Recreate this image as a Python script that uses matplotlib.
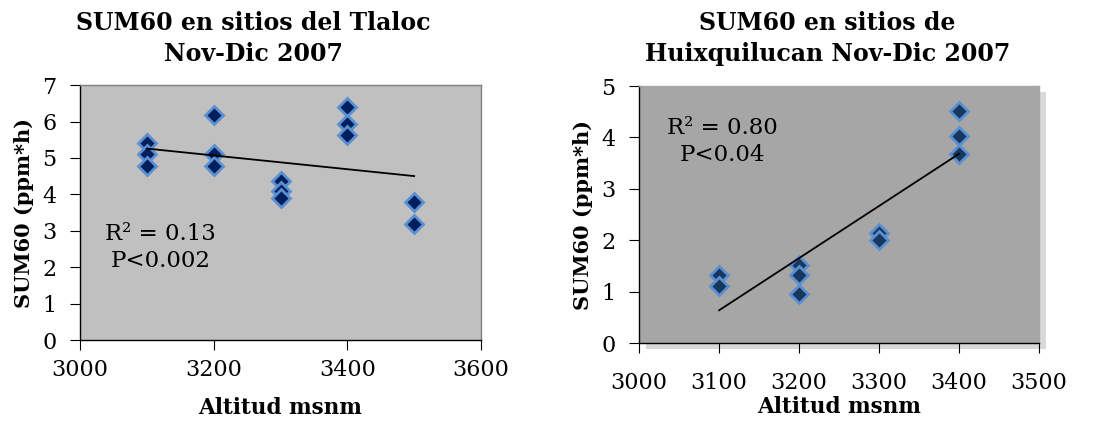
import numpy as np
import matplotlib.pyplot as plt
from matplotlib.patches import Rectangle

# Tlaloc sites
tl_alt = [3100, 3100, 3100, 3200, 3200, 3200, 3300, 3300, 3300,
          3400, 3400, 3400, 3500, 3500]
tl_sum60 = [5.4, 5.1, 4.77, 6.19, 5.11, 4.79, 4.38, 4.08, 3.9,
            6.4, 5.94, 5.64, 3.8, 3.19]

# Huixquilucan sites
hx_alt = [3100, 3100, 3200, 3200, 3200, 3300, 3300, 3400, 3400, 3400]
hx_sum60 = [1.32, 1.12, 1.51, 1.33, 0.96, 2.15, 2.01, 4.52, 4.03, 3.67]

plt.rcParams['font.family'] = 'DejaVu Serif'


def style_axes(ax, xlim, xticks, ylim, yticks, bg, dark_frame, xpad):
    ax.set_facecolor(bg)
    ax.set_xlim(*xlim)
    ax.set_ylim(*ylim)
    ax.set_xticks(xticks)
    ax.set_yticks(yticks)
    ax.tick_params(axis='x', direction='out', length=7, pad=xpad, labelsize=16)
    ax.tick_params(axis='y', direction='out', length=7, pad=10, labelsize=16)
    for side in ['left', 'bottom']:
        ax.spines[side].set_color('black')
        ax.spines[side].set_linewidth(1.0)
    for side in ['top', 'right']:
        ax.spines[side].set_color(dark_frame)
        ax.spines[side].set_linewidth(1.0)


def scatter_trend(ax, x, y, face, edge, x0, x1):
    x = np.array(x, dtype=float)
    y = np.array(y, dtype=float)
    slope, icpt = np.polyfit(x, y, 1)
    xs = np.array([x0, x1])
    ax.plot(x, y, linestyle='none', marker='D', markersize=9,
            markerfacecolor=face, markeredgecolor=edge, markeredgewidth=2,
            zorder=3)
    ax.plot(xs, slope * xs + icpt, color='black', linewidth=1.3, zorder=4)


fig = plt.figure(figsize=(10.93, 4.22), dpi=100)

# left panel
ax1 = fig.add_axes([0.0732, 0.1943, 0.3669, 0.604])
style_axes(ax1, (3000, 3600), [3000, 3200, 3400, 3600], (0, 7), range(0, 8),
           '#c0c0c0', '#808080', 6.5)
scatter_trend(ax1, tl_alt, tl_sum60, '#001f5f', '#5b8fd0', 3100, 3500)
ax1.text(3121, 2.55, 'R² = 0.13\nP<0.002', fontsize=16.5, ha='center',
         va='center', linespacing=1.3)
ax1.set_xlabel('Altitud msnm', fontsize=15.5, fontweight='bold', labelpad=12)
ax1.set_ylabel('SUM60 (ppm*h)', fontsize=15, fontweight='bold', labelpad=6)
fig.text(0.232, 0.908, 'SUM60 en sitios del Tlaloc\nNov-Dic 2007',
         fontsize=17, fontweight='bold', ha='center', va='center',
         linespacing=1.35)

# right panel with soft shadow
fig.patches.append(Rectangle((0.5847 + 0.006, 0.187 - 0.014), 0.366, 0.609,
                             transform=fig.transFigure, facecolor='#d9d9d9',
                             edgecolor='none', zorder=0))
ax2 = fig.add_axes([0.5847, 0.187, 0.366, 0.609], zorder=2)
style_axes(ax2, (3000, 3500), [3000, 3100, 3200, 3300, 3400, 3500],
           (0, 5), range(0, 6), '#a6a6a6', '#a6a6a6', 13.5)
scatter_trend(ax2, hx_alt, hx_sum60, '#17375e', '#5b8fd0', 3100, 3400)
ax2.text(3104, 3.92, 'R² = 0.80\nP<0.04', fontsize=16.5, ha='center',
         va='center', linespacing=1.3)
ax2.set_xlabel('Altitud msnm', fontsize=15.5, fontweight='bold', labelpad=2)
ax2.set_ylabel('SUM60 (ppm*h)', fontsize=15, fontweight='bold', labelpad=6)
fig.text(0.757, 0.908, 'SUM60 en sitios de\nHuixquilucan Nov-Dic 2007',
         fontsize=17, fontweight='bold', ha='center', va='center',
         linespacing=1.35)

fig.savefig('out.png', dpi=100)
